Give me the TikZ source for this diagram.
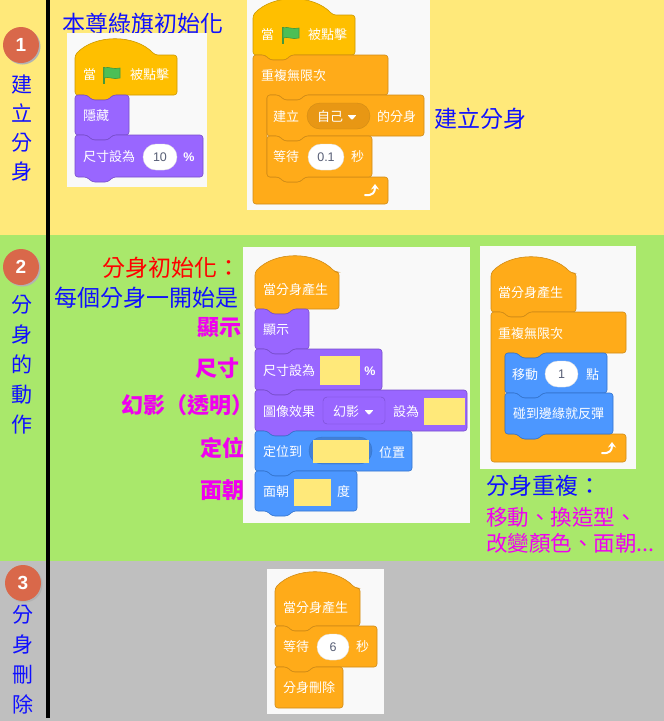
\documentclass[tikz,border=0pt]{standalone}
\usepackage{fontspec}
\setmainfont{Noto Sans CJK TC}
\newfontfamily\numfont{Liberation Sans}
\usetikzlibrary{arrows.meta}

\definecolor{secyellow}{HTML}{FFE97A}
\definecolor{secgreen}{HTML}{A9E86B}
\definecolor{secgray}{HTML}{BFBFBF}
\definecolor{panelbg}{HTML}{F9F9F9}
\definecolor{dotred}{HTML}{D9684A}
\definecolor{evfill}{HTML}{FFBF00}
\definecolor{evline}{HTML}{CC9900}
\definecolor{ctfill}{HTML}{FFAB19}
\definecolor{ctline}{HTML}{CF8B17}
\definecolor{ctdark}{HTML}{E89714}
\definecolor{lkfill}{HTML}{9966FF}
\definecolor{lkline}{HTML}{774DCB}
\definecolor{mofill}{HTML}{4C97FF}
\definecolor{moline}{HTML}{3373CC}
\definecolor{modark}{HTML}{4280D7}
\definecolor{numgray}{HTML}{575E75}
\definecolor{labelblue}{HTML}{1010FF}
\definecolor{labelpink}{HTML}{F000F0}
\definecolor{flaggreen}{HTML}{4CBF56}
\definecolor{flagdark}{HTML}{45993D}

% scratch block outlines: style, x, y, width, height
\newcommand{\stackblk}[5]{\draw[#1,rounded corners=3pt] (#2,#3+10) -- (#2,#3) -- (#2+12,#3) -- (#2+17,#3+5) -- (#2+33,#3+5) -- (#2+38,#3) -- (#2+#4,#3) -- (#2+#4,#3+#5) -- (#2+38,#3+#5) -- (#2+33,#3+#5+5) -- (#2+17,#3+#5+5) -- (#2+12,#3+#5) -- (#2,#3+#5) -- cycle;}
\newcommand{\capblk}[5]{\draw[#1,rounded corners=3pt] (#2,#3+10) -- (#2,#3) -- (#2+12,#3) -- (#2+17,#3+5) -- (#2+33,#3+5) -- (#2+38,#3) -- (#2+#4,#3) -- (#2+#4,#3+#5) -- (#2,#3+#5) -- cycle;}
\newcommand{\hatblk}[5]{\draw[#1,rounded corners=3pt] (#2,#3+10) -- (#2,#3) .. controls (#2+20,#3-21) and (#2+60,#3-21) .. (#2+80,#3) -- (#2+#4,#3) -- (#2+#4,#3+#5) -- (#2+38,#3+#5) -- (#2+33,#3+#5+5) -- (#2+17,#3+#5+5) -- (#2+12,#3+#5) -- (#2,#3+#5) -- cycle;}
\newcommand{\cblk}[7]{\draw[#1,rounded corners=3pt] (#2,#3+10) -- (#2,#3) -- (#2+12,#3) -- (#2+17,#3+5) -- (#2+33,#3+5) -- (#2+38,#3) -- (#2+#4,#3) -- (#2+#4,#3+#5) -- (#2+52,#3+#5) -- (#2+47,#3+#5+5) -- (#2+31,#3+#5+5) -- (#2+26,#3+#5) -- (#2+14,#3+#5) -- (#2+14,#3+#5+#6) -- (#2+26,#3+#5+#6) -- (#2+31,#3+#5+#6+5) -- (#2+47,#3+#5+#6+5) -- (#2+52,#3+#5+#6) -- (#2+#4,#3+#5+#6) -- (#2+#4,#3+#5+#6+#7) -- (#2,#3+#5+#6+#7) -- cycle;}
\newcommand{\greenflag}[2]{\draw[flagdark,line width=1.6pt] (#1+1,#2) -- (#1+1,#2+17);
	\draw[fill=flaggreen,draw=flagdark,line width=0.6pt] (#1+1,#2+1) .. controls (#1+6,#2-1) and (#1+10,#2+3) .. (#1+17,#2+1) -- (#1+17,#2+11) .. controls (#1+10,#2+13) and (#1+6,#2+9) .. (#1+1,#2+11) -- cycle;}
\newcommand{\loopicon}[2]{\draw[white,line width=2pt,line cap=round,-{Stealth[length=5.5pt,width=8pt]}] (#1-7,#2+5) .. controls (#1+1,#2+6) and (#1+3,#2+2) .. (#1+3,#2-6);}
\newcommand{\dropmark}[2]{\fill[white,rounded corners=0.8pt] (#1-4.5,#2-2) -- (#1+4.5,#2-2) -- (#1,#2+3) -- cycle;}

\begin{document}
\begin{tikzpicture}[x=1pt,y=-1pt,
	ev/.style={fill=evfill,draw=evline,line width=0.6pt},
	ct/.style={fill=ctfill,draw=ctline,line width=0.6pt},
	lk/.style={fill=lkfill,draw=lkline,line width=0.6pt},
	mo/.style={fill=mofill,draw=moline,line width=0.6pt},
	blk/.style={text=white,font=\fontsize{13}{13}\selectfont,anchor=west,inner sep=0pt},
	pill/.style={fill=white,draw=black!12,rounded corners=13pt,minimum height=26pt,inner sep=0pt,text=numgray,font=\numfont\fontsize{12.5}{12.5}\selectfont},
	pct/.style={text=white,font=\numfont\bfseries\fontsize{12.5}{12.5}\selectfont,inner sep=0pt},
	big/.style={font=\fontsize{23}{23}\selectfont,anchor=west,inner sep=0pt},
	pinkmark/.style={font=\bfseries\fontsize{22}{22}\selectfont,text=labelpink,anchor=west,inner sep=0pt},
	side/.style={font=\fontsize{21}{30}\selectfont,text=labelblue,align=center,inner sep=0pt},
	numdot/.style={circle,fill=dotred,minimum size=36pt,inner sep=0pt,text=white,font=\numfont\bfseries\fontsize{19}{19}\selectfont}]
\useasboundingbox (0,0) rectangle (664,721);
\fill[secyellow] (0,0) rectangle (664,235);
\fill[secgreen] (0,235) rectangle (664,561);
\fill[secgray] (0,561) rectangle (664,721);
\draw[line width=4pt] (48,0) -- (48,718);

\fill[black!30] (22.5,46.5) circle (18pt);
\node[numdot] (dot1) at (21,45) {1};
\fill[black!30] (22.5,268.5) circle (18pt);
\node[numdot] (dot2) at (21,267) {2};
\fill[black!30] (24.5,584.5) circle (18pt);
\node[numdot] (dot3) at (23,583) {3};
\node[side,font=\fontsize{21}{28.7}\selectfont] (side1) at (22,128) {建\\立\\分\\身};
\node[side] (side2) at (22,365) {分\\身\\的\\動\\作};
\node[side] (side3) at (23,660) {分\\身\\刪\\除};

% 1 建立分身
\node[big,text=labelblue] (origin) at (62,24) {本尊綠旗初始化};
\fill[panelbg] (67,33) rectangle (207,187);
\hatblk{ev}{75}{55}{102}{40}
\stackblk{lk}{75}{95}{54}{40}
\stackblk{lk}{75}{135}{128}{42}
\node[blk] (flagA) at (83,75) {當};
\greenflag{103}{67}
\node[blk] (clickA) at (130,75) {被點擊};
\node[blk] (hide) at (83,116) {隱藏};
\node[blk] (sizeA) at (83,157) {尺寸設為};
\node[pill,minimum width=34pt] (sizeAval) at (160,157) {10};
\node[pct] (sizeApct) at (189,157) {\%};

\fill[panelbg] (247,0) rectangle (430,210);
\hatblk{ev}{253}{15}{102}{40}
\cblk{ct}{253}{55}{135}{40}{82}{27}
\stackblk{ct}{267}{95}{157}{41}
\stackblk{ct}{267}{136}{105}{41}
\node[blk] (flagB) at (261,35) {當};
\greenflag{282}{27}
\node[blk] (clickB) at (308,35) {被點擊};
\node[blk] (foreverB) at (261,76) {重複無限次};
\node[blk] (clone) at (273,117) {建立};
\node[fill=ctdark,draw=ctline,rounded corners=13pt,minimum width=63pt,minimum height=26pt,inner sep=0pt] (cloneof) at (338.5,116) {};
\node[blk] (myself) at (317,117) {自己};
\dropmark{352}{117}
\node[blk] (cloneword) at (377,117) {的分身};
\node[blk] (waitB) at (273,157) {等待};
\node[pill,minimum width=36pt] (waitBval) at (326,157) {0.1};
\node[blk] (secB) at (351,157) {秒};
\loopicon{372}{190}
\node[big,text=labelblue] (makeclone) at (434,119) {建立分身};

% 2 分身的動作
\node[big,text=red] (initlabel) at (102,268) {分身初始化：};
\node[big,text=labelblue] (eachlabel) at (54,298) {每個分身一開始是};
\node[pinkmark] (showlabel) at (197,328) {顯示};
\node[pinkmark] (sizelabel) at (195,368) {尺寸};
\node[pinkmark] (ghostlabel) at (121,405) {幻影（透明）};
\node[pinkmark] (gotolabel) at (200,448) {定位};
\node[pinkmark] (dirlabel) at (200,490) {面朝};

\fill[panelbg] (243,247) rectangle (470,523);
\hatblk{ct}{255}{272}{84}{37}
\stackblk{lk}{255}{309}{54}{40}
\stackblk{lk}{255}{349}{127}{41}
\stackblk{lk}{255}{390}{212}{41}
\stackblk{mo}{255}{431}{157}{40}
\stackblk{mo}{255}{471}{102}{40}
\node[blk] (startC) at (263,290) {當分身產生};
\node[blk] (showC) at (263,330) {顯示};
\node[blk] (sizeC) at (263,371) {尺寸設為};
\fill[secyellow] (320,356) rectangle (360,385);
\node[pct] (sizeCpct) at (370,371) {\%};
\node[blk] (effectC) at (263,412) {圖像效果};
\node[fill=lkfill,draw=lkline,rounded corners=4pt,minimum width=62pt,minimum height=27pt,inner sep=0pt] (effectmenu) at (354,410.5) {};
\node[blk] (ghostC) at (333,412) {幻影};
\dropmark{369}{412}
\node[blk] (effectto) at (393,412) {設為};
\fill[secyellow] (424,398) rectangle (465,425);
\node[blk] (gotoC) at (263,452) {定位到};
\node[fill=modark,draw=moline,rounded corners=13pt,minimum width=63pt,minimum height=27pt,inner sep=0pt] (gotomenu) at (340.5,450.5) {};
\fill[secyellow] (313,440) rectangle (369,463);
\node[blk] (gotopos) at (379,452) {位置};
\node[blk] (pointC) at (263,492) {面朝};
\fill[secyellow] (294,479) rectangle (331,506);
\node[blk] (degC) at (337,492) {度};

\fill[panelbg] (480,246) rectangle (636,469);
\hatblk{ct}{491}{273}{85}{39}
\cblk{ct}{491}{312}{135}{41}{81}{28}
\stackblk{mo}{505}{353}{102}{40}
\stackblk{mo}{505}{393}{108}{41}
\node[blk] (startD) at (498,293) {當分身產生};
\node[blk] (foreverD) at (498,334) {重複無限次};
\node[blk] (moveD) at (512,375) {移動};
\node[pill,minimum width=33pt] (moveDval) at (561.5,374) {1};
\node[blk] (stepsD) at (586,375) {點};
\node[blk] (bounceD) at (513,414) {碰到邊緣就反彈};
\loopicon{609}{448}
\node[big,text=labelblue] (repeatlabel) at (486,486) {分身重複：};
\node[big,text=labelpink,font=\fontsize{21.5}{21.5}\selectfont] (repeatA) at (486,517) {移動、換造型、};
\node[big,text=labelpink,font=\fontsize{21.5}{21.5}\selectfont] (repeatB) at (486,543) {改變顏色、面朝...};

% 3 分身刪除
\fill[panelbg] (267,569) rectangle (384,714);
\hatblk{ct}{275}{588}{85}{38}
\stackblk{ct}{275}{626}{102}{41}
\capblk{ct}{275}{667}{68}{41}
\node[blk] (startE) at (283,608) {當分身產生};
\node[blk] (waitE) at (283,647) {等待};
\node[pill,minimum width=32pt] (waitEval) at (333,647) {6};
\node[blk] (secE) at (356,647) {秒};
\node[blk] (deleteE) at (283,688) {分身刪除};
\end{tikzpicture}
\end{document}
